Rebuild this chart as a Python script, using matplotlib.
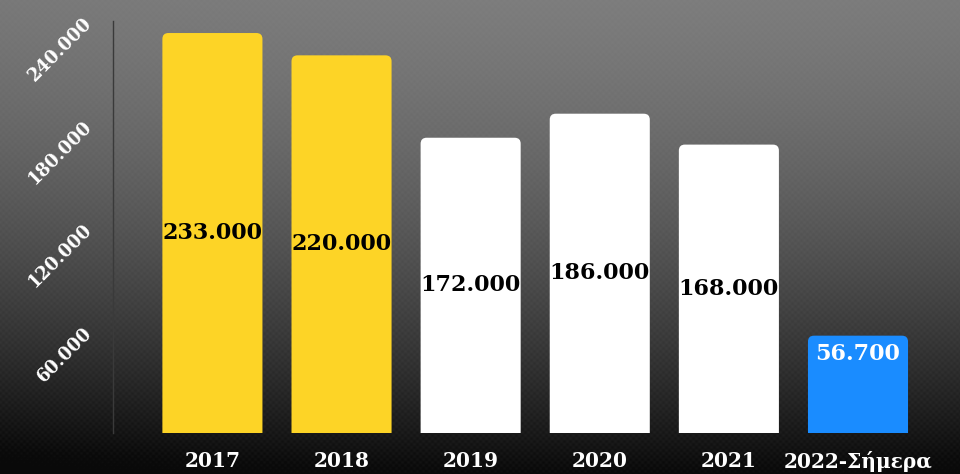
import numpy as np
import matplotlib
matplotlib.use("Agg")
from matplotlib import pyplot as plt
from matplotlib.patches import FancyBboxPatch

# chart data
years = ["2017", "2018", "2019", "2020", "2021", "2022-Σήμερα"]
values = [233000, 220000, 172000, 186000, 168000, 56700]
value_labels = ["233.000", "220.000", "172.000", "186.000", "168.000", "56.700"]
y_ticks = [60000, 120000, 180000, 240000]
y_tick_labels = ["60.000", "120.000", "180.000", "240.000"]

bar_colors = ["#fdd426", "#fdd426", "#ffffff", "#ffffff", "#ffffff", "#1a8cff"]
text_colors = ["black", "black", "black", "black", "black", "white"]

W, H = 960, 474
fig = plt.figure(figsize=(W / 100, H / 100), dpi=100)

# background: grey to black gradient with a faint dot texture
bg = fig.add_axes([0, 0, 1, 1], zorder=-10)
yy, xx = np.mgrid[0:H, 0:W]
t = yy / H
shade = 125 - 40 * t - 75 * t ** 2
shade -= 12 * ((xx - W * 0.6) / W) ** 2 * (1 + t)
dots = 3 * np.cos(xx * 2 * np.pi / 6) * np.cos(yy * 2 * np.pi / 6)
shade = np.clip(shade + dots * (0.4 + t), 10, 255) / 255
bg.imshow(np.dstack([shade] * 3), aspect="auto", extent=[0, 1, 0, 1])
bg.axis("off")

left, right = 113 / W, 1.0
bottom, top = (H - 433) / H, (H - 21) / H
ax = fig.add_axes([left, bottom, right - left, top - bottom])
ax.set_facecolor("none")

x = np.arange(len(years))
bars = ax.bar(x, values, width=0.775, color=bar_colors)

ax.set_xlim(-0.77, 5.79)
ax.set_ylim(0, 240000)

# swap plain bars for rounded ones (bottom corners hidden below the axis)
px_x = 129.0            # pixels per x unit
units_y = 240000 / 412  # y units per pixel
for b, c in zip(bars, bar_colors):
    b.set_visible(False)
    r = 6 / px_x
    extra = 10 * units_y
    patch = FancyBboxPatch((b.get_x(), b.get_y() - extra), b.get_width(),
                           b.get_height() + extra,
                           boxstyle=f"round,pad=0,rounding_size={r}",
                           mutation_aspect=units_y * px_x,
                           facecolor=c, edgecolor="none")
    ax.add_patch(patch)

# value labels
for i, (v, lab) in enumerate(zip(values, value_labels)):
    if i == len(values) - 1:
        ypos, va = v - 4000, "top"
    else:
        ypos, va = v / 2, "center"
    ax.text(x[i], ypos, lab, ha="center", va=va, color=text_colors[i],
            fontsize=16, fontweight="bold", family="DejaVu Serif")

ax.set_xticks(x)
ax.set_xticklabels(years, color="white", fontsize=14.5, fontweight="bold",
                   family="DejaVu Serif")
ax.set_yticks(y_ticks)
ax.set_yticklabels(y_tick_labels, color="white", fontsize=13, fontweight="bold",
                   family="DejaVu Serif", rotation=45, ha="right", va="center",
                   rotation_mode="anchor")
ax.tick_params(axis="both", length=0)
ax.tick_params(axis="x", pad=13)
ax.tick_params(axis="y", pad=17)

for s in ["top", "right", "bottom"]:
    ax.spines[s].set_visible(False)
ax.spines["left"].set_color("#3a3a3a")
ax.spines["left"].set_linewidth(1)

fig.savefig("out.png", dpi=100)
